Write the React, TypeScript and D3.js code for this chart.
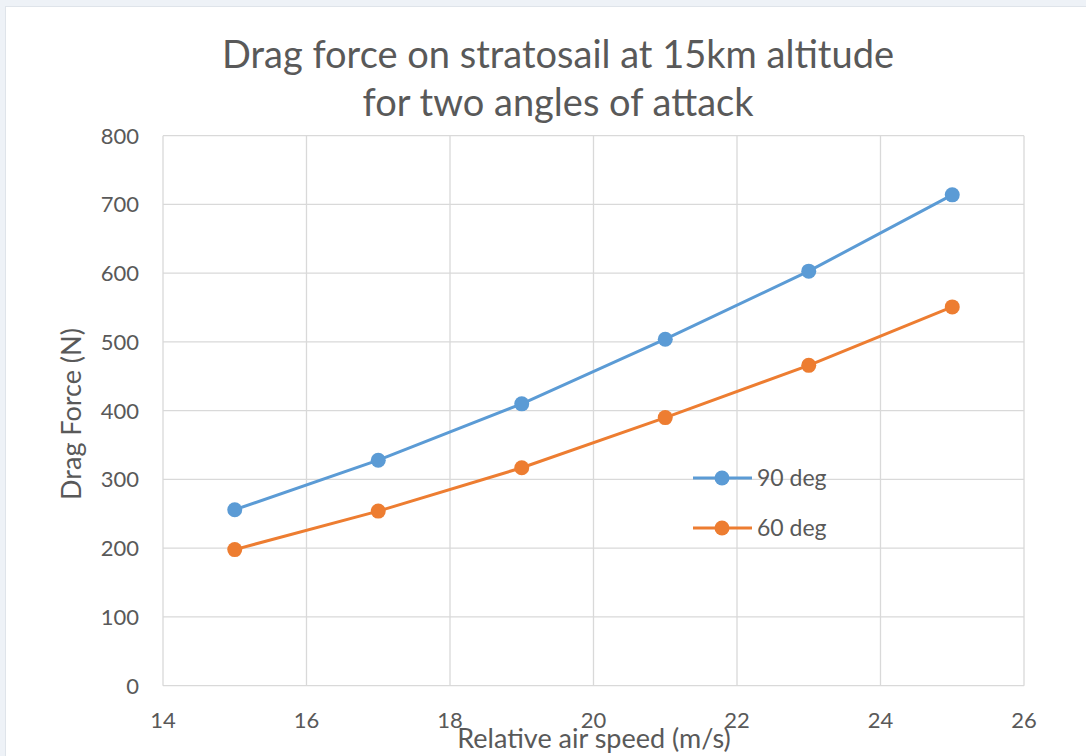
import React from "react";
import * as d3 from "d3";

const speeds = [15, 17, 19, 21, 23, 25];
const drag90 = [256, 328, 410, 504, 603, 714];
const drag60 = [198, 254, 317, 390, 466, 551];
const xTicks = [14, 16, 18, 20, 22, 24, 26];
const yTicks = [0, 100, 200, 300, 400, 500, 600, 700, 800];
const seriesNames = ["90 deg", "60 deg"];
const colors = ["#5B9BD5", "#ED7D31"];

const W = 1086;
const H = 756;
const font = "Lato, 'Open Sans', sans-serif";
const textColor = "#595959";

export default function App() {
  const x = d3.scaleLinear().domain([14, 26]).range([163, 1024]);
  const y = d3.scaleLinear().domain([0, 800]).range([685.7, 135.7]);
  const line = d3
    .line<[number, number]>()
    .x((d) => x(d[0]))
    .y((d) => y(d[1]));
  const series = [drag90, drag60].map((vals) =>
    speeds.map((s, i) => [s, vals[i]] as [number, number])
  );
  const legendY = [478, 528];

  return (
    <svg
      width={W}
      height={H}
      style={{ position: "absolute", left: 0, top: 0, fontFamily: font }}
    >
      <rect x={0} y={0} width={W} height={H} fill="#eef2f7" />
      <rect x={5.5} y={6.5} width={W} height={H} fill="#ffffff" stroke="#dfe4ea" />
      <text x={558} y={68} textAnchor="middle" fontSize={38} fill={textColor}>
        Drag force on stratosail at 15km altitude
      </text>
      <text x={558} y={116} textAnchor="middle" fontSize={38} fill={textColor}>
        for two angles of attack
      </text>
      {yTicks.map((t) => (
        <g key={"y" + t}>
          <line x1={x(14)} x2={x(26)} y1={y(t)} y2={y(t)} stroke="#d9d9d9" strokeWidth={1.3} />
          <text x={139} y={y(t) + 8} textAnchor="end" fontSize={22} fill={textColor}>
            {t}
          </text>
        </g>
      ))}
      {xTicks.map((t) => (
        <g key={"x" + t}>
          <line x1={x(t)} x2={x(t)} y1={y(0)} y2={y(800)} stroke="#d9d9d9" strokeWidth={1.3} />
          <text x={x(t)} y={728} textAnchor="middle" fontSize={22} fill={textColor}>
            {t}
          </text>
        </g>
      ))}
      <text x={594} y={748} textAnchor="middle" fontSize={27} fill={textColor}>
        Relative air speed (m/s)
      </text>
      <text
        transform="translate(81, 414) rotate(-90)"
        textAnchor="middle"
        fontSize={27}
        fill={textColor}
      >
        Drag Force (N)
      </text>
      {series.map((pts, i) => (
        <g key={"s" + i}>
          <path d={line(pts) || ""} fill="none" stroke={colors[i]} strokeWidth={3} />
          {pts.map((p, j) => (
            <circle key={j} cx={x(p[0])} cy={y(p[1])} r={7.5} fill={colors[i]} />
          ))}
        </g>
      ))}
      {seriesNames.map((n, i) => (
        <g key={"l" + i}>
          <line x1={693} x2={752} y1={legendY[i]} y2={legendY[i]} stroke={colors[i]} strokeWidth={3} />
          <circle cx={722} cy={legendY[i]} r={7.5} fill={colors[i]} />
          <text x={757} y={legendY[i] + 8} fontSize={23} fill={textColor}>
            {n}
          </text>
        </g>
      ))}
    </svg>
  );
}
